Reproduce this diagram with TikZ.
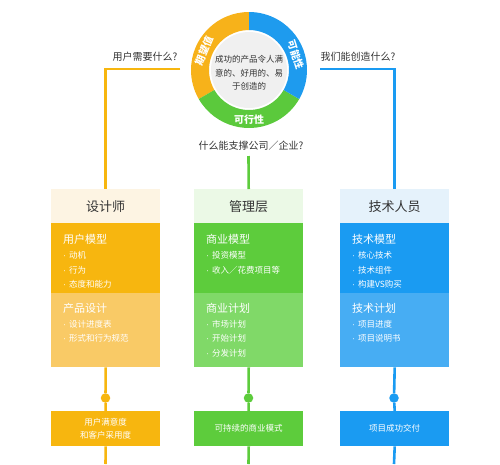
\documentclass[tikz,border=0pt]{standalone}
\usepackage{fontspec}
\setmainfont{Noto Sans CJK SC}
\newfontfamily\latinf{Liberation Sans}
\newcommand{\bul}{{\latinf\textperiodcentered}\hspace{3pt}}
\definecolor{orA}{HTML}{F7B60F}
\definecolor{orB}{HTML}{F9CA66}
\definecolor{orH}{HTML}{FDF4E3}
\definecolor{grA}{HTML}{5DCC3C}
\definecolor{grB}{HTML}{80D968}
\definecolor{grH}{HTML}{EBF9E6}
\definecolor{blA}{HTML}{1A9BF2}
\definecolor{blB}{HTML}{47ADF3}
\definecolor{blH}{HTML}{E5F2FB}
\definecolor{ringO}{HTML}{F7B21A}
\definecolor{ringG}{HTML}{5BC93C}
\definecolor{ringB}{HTML}{1E9BEE}
\definecolor{disk}{HTML}{F0F0F0}
\definecolor{txt}{HTML}{333333}
\begin{document}
\begin{tikzpicture}[x=1pt,y=-1pt,
  boxbase/.style={inner sep=0pt, anchor=north west, minimum width=109pt},
  headbox/.style={boxbase, minimum height=34pt, text=txt, font=\fontsize{13}{15}\selectfont},
  secA/.style={boxbase, minimum height=70pt},
  secB/.style={boxbase, minimum height=74pt},
  endbox/.style={boxbase, minimum height=35pt, text=white, align=center, font=\fontsize{8.5}{13}\selectfont},
  sectitle/.style={anchor=west, inner sep=0pt, text=white, font=\fontsize{11}{13}\selectfont},
  bullet/.style={anchor=west, inner sep=0pt, text=white, font=\fontsize{8.5}{10}\selectfont},
  qlabel/.style={text=txt, inner sep=0pt, font=\fontsize{10}{12}\selectfont},
  ringlbl/.style={text=white, inner sep=0pt, font=\fontsize{10}{12}\selectfont\bfseries},
  conn/.style={line width=2.6pt},
  dotnode/.style={circle, inner sep=0pt, minimum size=9.5pt}
]
\useasboundingbox (0,0) rectangle (500,464);
\fill[white] (0,0) rectangle (500,464);

% ---------- ring ----------
\node[circle, inner sep=0pt, minimum size=116pt] (ring) at (249,70) {};
\begin{scope}[shift={(249,70)}, x=1pt, y=1pt]
  \fill[ringO] (90:58) arc[start angle=90, end angle=210, radius=58] -- (210:40) arc[start angle=210, end angle=90, radius=40] -- cycle;
  \fill[ringG] (210:58) arc[start angle=210, end angle=330, radius=58] -- (330:40) arc[start angle=330, end angle=210, radius=40] -- cycle;
  \fill[ringB] (330:58) arc[start angle=330, end angle=450, radius=58] -- (90:40) arc[start angle=90, end angle=-30, radius=40] -- cycle;
  \fill[disk] (0,0) circle[radius=38];
  \node[ringlbl, rotate=67] (lblO) at (157:49) {期望值};
  \node[ringlbl, rotate=-72] (lblB) at (18:49) {可能性};
  \node[ringlbl] (lblG) at (270:50) {可行性};
  \node[text=txt, align=center, inner sep=0pt, font=\fontsize{8.5}{13.5}\selectfont] (core) at (0,-3) {成功的产品令人满\\意的、好用的、易\\于创造的};
\end{scope}

% ---------- question labels ----------
\node[qlabel] (q1) at (145,57) {用户需要什么?};
\node[qlabel] (q2) at (358,57) {我们能创造什么?};
\node[qlabel] (q3) at (251,146) {什么能支撑公司／企业?};

% ---------- columns ----------
% left
\node[headbox, fill=orH] (h1) at (51,189) {设计师};
\node[secA, fill=orA] (a1) at (51,223) {};
\node[secB, fill=orB] (b1) at (51,293) {};
\node[sectitle] (t11) at (63,239) {用户模型};
\node[bullet] (u111) at (63,255) {\bul 动机};
\node[bullet] (u112) at (63,270) {\bul 行为};
\node[bullet] (u113) at (63,284) {\bul 态度和能力};
\node[sectitle] (t12) at (63,308) {产品设计};
\node[bullet] (u121) at (63,324) {\bul 设计进度表};
\node[bullet] (u122) at (63,338) {\bul 形式和行为规范};

% middle
\node[headbox, fill=grH] (h2) at (194,189) {管理层};
\node[secA, fill=grA] (a2) at (194,223) {};
\node[secB, fill=grB] (b2) at (194,293) {};
\node[sectitle] (t21) at (206,239) {商业模型};
\node[bullet] (u211) at (206,255) {\bul 投资模型};
\node[bullet] (u212) at (206,270) {\bul 收入／花费项目等};
\node[sectitle] (t22) at (206,308) {商业计划};
\node[bullet] (u221) at (206,324) {\bul 市场计划};
\node[bullet] (u222) at (206,338) {\bul 开始计划};
\node[bullet] (u223) at (206,353) {\bul 分发计划};

% right
\node[headbox, fill=blH] (h3) at (340,189) {技术人员};
\node[secA, fill=blA] (a3) at (340,223) {};
\node[secB, fill=blB] (b3) at (340,293) {};
\node[sectitle] (t31) at (352,239) {技术模型};
\node[bullet] (u311) at (352,255) {\bul 核心技术};
\node[bullet] (u312) at (352,270) {\bul 技术组件};
\node[bullet] (u313) at (352,284) {\bul 构建VS购买};
\node[sectitle] (t32) at (352,308) {技术计划};
\node[bullet] (u321) at (352,324) {\bul 项目进度};
\node[bullet] (u322) at (352,338) {\bul 项目说明书};

% ---------- dots and end boxes ----------
\node[dotnode, fill=orA] (d1) at (105.5,398) {};
\node[dotnode, fill=grA] (d2) at (248.5,398) {};
\node[dotnode, fill=blA] (d3) at (394,398) {};
\node[endbox, fill=orA] (e1) at (51,411) {用户满意度\\和客户采用度};
\node[endbox, fill=grA] (e2) at (194,411) {可持续的商业模式};
\node[endbox, fill=blA] (e3) at (340,411) {项目成功交付};

% ---------- connectors ----------
\coordinate (s1) at (180,69);
\coordinate (s2) at (320,69);
\coordinate (s3) at (248.5,156);
\coordinate (f1) at (105.5,464);
\coordinate (f2) at (248.5,464);
\coordinate (f3) at (394,464);
\draw[conn, orA] (s1) -| (h1.north);
\draw[conn, blA] (s2) -| (h3.north);
\draw[conn, grA] (s3) -- (h2.north);
\draw[conn, orA] (b1.south) -- (d1) -- (e1.north);
\draw[conn, grA] (b2.south) -- (d2) -- (e2.north);
\draw[conn, blA] (b3.south) -- (d3) -- (e3.north);
\draw[conn, orA] (e1.south) -- (f1);
\draw[conn, grA] (e2.south) -- (f2);
\draw[conn, blA] (e3.south) -- (f3);
\end{tikzpicture}
\end{document}
